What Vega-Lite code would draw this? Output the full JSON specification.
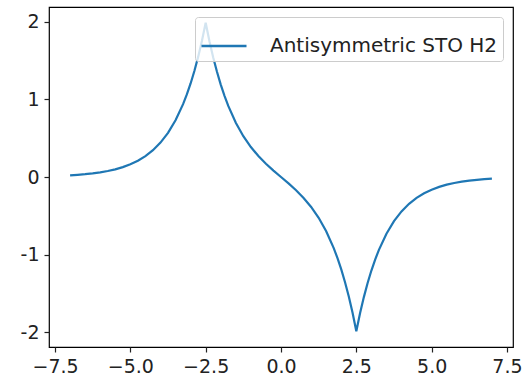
{
  "$schema": "https://vega.github.io/schema/vega-lite/v6.json",
  "autosize": {"type": "none"},
  "width": 464,
  "height": 340,
  "padding": {"left": 49, "top": 7, "right": 12, "bottom": 36},
  "background": "white",
  "config": {
    "view": {"stroke": "black", "strokeWidth": 1.2},
    "axis": {"domain": false, "grid": false, "tickColor": "#222", "tickSize": 5, "tickWidth": 1.2, "labelFont": "DejaVu Sans", "labelFontSize": 19, "labelColor": "#222", "labelPadding": 5, "title": null}
  },
  "data": {"values": [
    {"x": -7, "y": 0.0221, "s": "Antisymmetric STO H2"},
    {"x": -6.75, "y": 0.0284, "s": "Antisymmetric STO H2"},
    {"x": -6.5, "y": 0.0364, "s": "Antisymmetric STO H2"},
    {"x": -6.25, "y": 0.0467, "s": "Antisymmetric STO H2"},
    {"x": -6, "y": 0.06, "s": "Antisymmetric STO H2"},
    {"x": -5.75, "y": 0.0771, "s": "Antisymmetric STO H2"},
    {"x": -5.5, "y": 0.0989, "s": "Antisymmetric STO H2"},
    {"x": -5.25, "y": 0.127, "s": "Antisymmetric STO H2"},
    {"x": -5, "y": 0.1631, "s": "Antisymmetric STO H2"},
    {"x": -4.75, "y": 0.2094, "s": "Antisymmetric STO H2"},
    {"x": -4.5, "y": 0.2688, "s": "Antisymmetric STO H2"},
    {"x": -4.25, "y": 0.3452, "s": "Antisymmetric STO H2"},
    {"x": -4, "y": 0.4432, "s": "Antisymmetric STO H2"},
    {"x": -3.75, "y": 0.5692, "s": "Antisymmetric STO H2"},
    {"x": -3.5, "y": 0.7308, "s": "Antisymmetric STO H2"},
    {"x": -3.25, "y": 0.9384, "s": "Antisymmetric STO H2"},
    {"x": -3.125, "y": 1.0634, "s": "Antisymmetric STO H2"},
    {"x": -3, "y": 1.2048, "s": "Antisymmetric STO H2"},
    {"x": -2.875, "y": 1.3654, "s": "Antisymmetric STO H2"},
    {"x": -2.75, "y": 1.5472, "s": "Antisymmetric STO H2"},
    {"x": -2.625, "y": 1.7532, "s": "Antisymmetric STO H2"},
    {"x": -2.5, "y": 1.9866, "s": "Antisymmetric STO H2"},
    {"x": -2.375, "y": 1.7498, "s": "Antisymmetric STO H2"},
    {"x": -2.25, "y": 1.5402, "s": "Antisymmetric STO H2"},
    {"x": -2.125, "y": 1.355, "s": "Antisymmetric STO H2"},
    {"x": -2, "y": 1.1908, "s": "Antisymmetric STO H2"},
    {"x": -1.875, "y": 1.0454, "s": "Antisymmetric STO H2"},
    {"x": -1.75, "y": 0.9162, "s": "Antisymmetric STO H2"},
    {"x": -1.5, "y": 0.6992, "s": "Antisymmetric STO H2"},
    {"x": -1.25, "y": 0.526, "s": "Antisymmetric STO H2"},
    {"x": -1, "y": 0.3858, "s": "Antisymmetric STO H2"},
    {"x": -0.75, "y": 0.27, "s": "Antisymmetric STO H2"},
    {"x": -0.5, "y": 0.171, "s": "Antisymmetric STO H2"},
    {"x": -0.25, "y": 0.083, "s": "Antisymmetric STO H2"},
    {"x": 0, "y": 0, "s": "Antisymmetric STO H2"},
    {"x": 0.25, "y": -0.083, "s": "Antisymmetric STO H2"},
    {"x": 0.5, "y": -0.171, "s": "Antisymmetric STO H2"},
    {"x": 0.75, "y": -0.27, "s": "Antisymmetric STO H2"},
    {"x": 1, "y": -0.3858, "s": "Antisymmetric STO H2"},
    {"x": 1.25, "y": -0.526, "s": "Antisymmetric STO H2"},
    {"x": 1.5, "y": -0.6992, "s": "Antisymmetric STO H2"},
    {"x": 1.75, "y": -0.9162, "s": "Antisymmetric STO H2"},
    {"x": 1.875, "y": -1.0454, "s": "Antisymmetric STO H2"},
    {"x": 2, "y": -1.1908, "s": "Antisymmetric STO H2"},
    {"x": 2.125, "y": -1.355, "s": "Antisymmetric STO H2"},
    {"x": 2.25, "y": -1.5402, "s": "Antisymmetric STO H2"},
    {"x": 2.375, "y": -1.7498, "s": "Antisymmetric STO H2"},
    {"x": 2.5, "y": -1.9866, "s": "Antisymmetric STO H2"},
    {"x": 2.625, "y": -1.7532, "s": "Antisymmetric STO H2"},
    {"x": 2.75, "y": -1.5472, "s": "Antisymmetric STO H2"},
    {"x": 2.875, "y": -1.3654, "s": "Antisymmetric STO H2"},
    {"x": 3, "y": -1.2048, "s": "Antisymmetric STO H2"},
    {"x": 3.125, "y": -1.0634, "s": "Antisymmetric STO H2"},
    {"x": 3.25, "y": -0.9384, "s": "Antisymmetric STO H2"},
    {"x": 3.5, "y": -0.7308, "s": "Antisymmetric STO H2"},
    {"x": 3.75, "y": -0.5692, "s": "Antisymmetric STO H2"},
    {"x": 4, "y": -0.4432, "s": "Antisymmetric STO H2"},
    {"x": 4.25, "y": -0.3452, "s": "Antisymmetric STO H2"},
    {"x": 4.5, "y": -0.2688, "s": "Antisymmetric STO H2"},
    {"x": 4.75, "y": -0.2094, "s": "Antisymmetric STO H2"},
    {"x": 5, "y": -0.1631, "s": "Antisymmetric STO H2"},
    {"x": 5.25, "y": -0.127, "s": "Antisymmetric STO H2"},
    {"x": 5.5, "y": -0.0989, "s": "Antisymmetric STO H2"},
    {"x": 5.75, "y": -0.0771, "s": "Antisymmetric STO H2"},
    {"x": 6, "y": -0.06, "s": "Antisymmetric STO H2"},
    {"x": 6.25, "y": -0.0467, "s": "Antisymmetric STO H2"},
    {"x": 6.5, "y": -0.0364, "s": "Antisymmetric STO H2"},
    {"x": 6.75, "y": -0.0284, "s": "Antisymmetric STO H2"},
    {"x": 7, "y": -0.0221, "s": "Antisymmetric STO H2"}
  ]},
  "mark": {"type": "line", "strokeWidth": 2.2, "clip": true},
  "encoding": {
    "x": {"field": "x", "type": "quantitative", "scale": {"domain": [-7.7, 7.7], "nice": false, "zero": false},
      "axis": {"values": [-7.5, -5, -2.5, 0, 2.5, 5, 7.5], "labelExpr": "replace(format(datum.value, '.1f'), '-', '\u2212')"}},
    "y": {"field": "y", "type": "quantitative", "scale": {"domain": [-2.19, 2.19], "nice": false, "zero": false},
      "axis": {"values": [-2, -1, 0, 1, 2], "labelExpr": "datum.value + ''"}},
    "color": {"field": "s", "type": "nominal", "scale": {"range": ["#1f77b4"]},
      "legend": {"title": null, "orient": "top-right", "offset": 10, "symbolType": "stroke", "symbolSize": 2025, "symbolStrokeWidth": 2.5, "strokeColor": "#cccccc", "fillColor": "rgba(255,255,255,0.8)", "padding": 5, "cornerRadius": 3, "labelFont": "DejaVu Sans", "labelFontSize": 20, "labelColor": "#222", "labelOffset": 22, "labelLimit": 400}}
  }
}
